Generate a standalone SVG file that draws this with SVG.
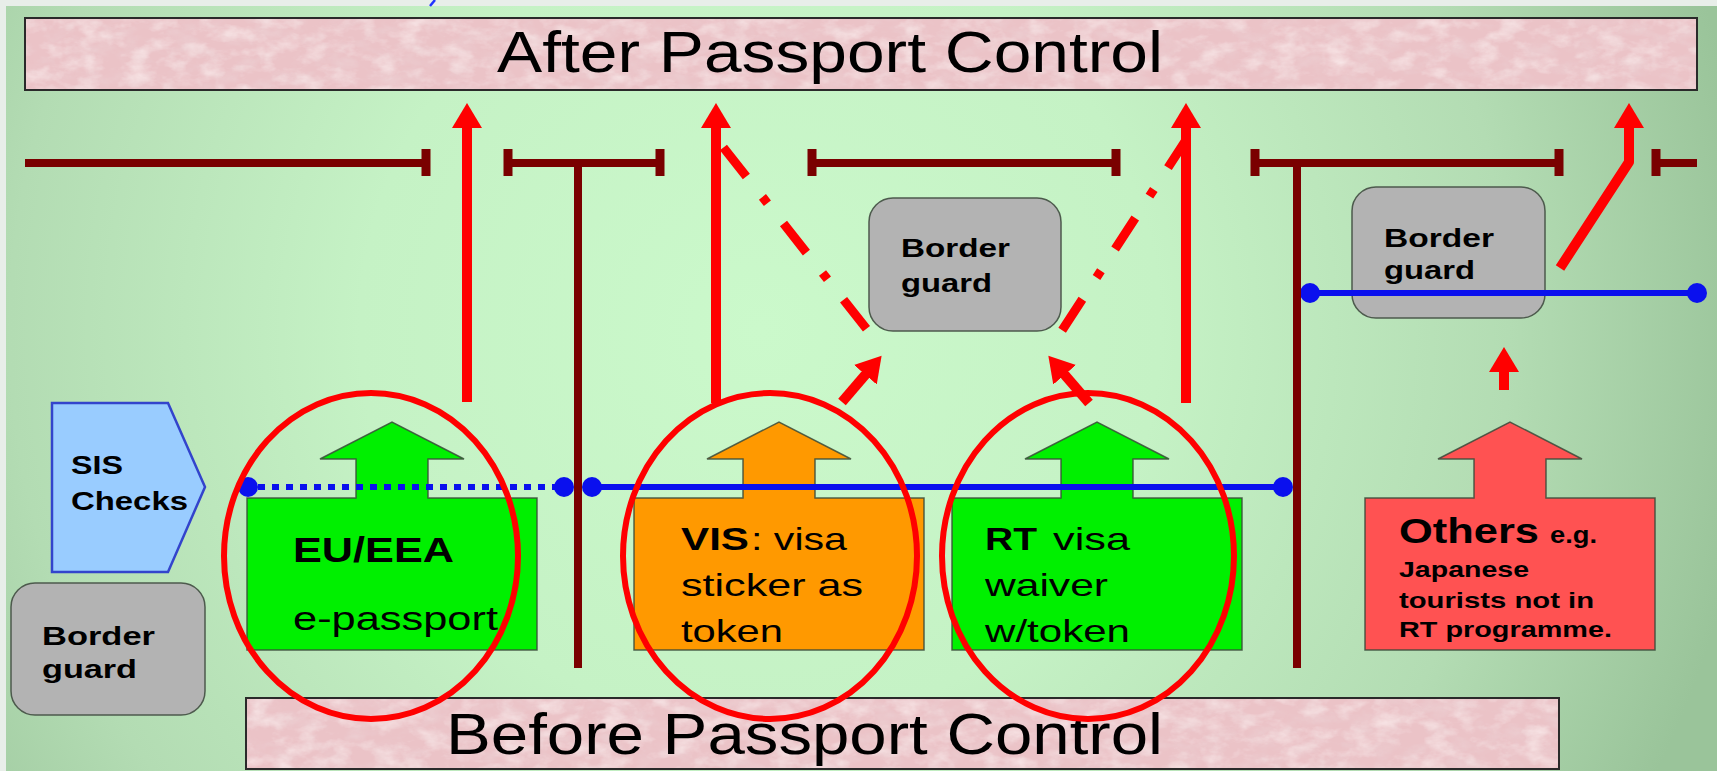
<svg xmlns="http://www.w3.org/2000/svg" xmlns:xlink="http://www.w3.org/1999/xlink" width="1717" height="771" viewBox="0 0 1717 771">
  <defs>
    <radialGradient id="bgGrad" gradientUnits="userSpaceOnUse" cx="760" cy="330" r="1000">
      <stop offset="0" stop-color="#cbf9cb"/>
      <stop offset="0.4" stop-color="#c5f2c5"/>
      <stop offset="0.75" stop-color="#b3dcb3"/>
      <stop offset="1" stop-color="#9ac49a"/>
    </radialGradient>
    <!-- mottled granite look for the two zone bands -->
    <filter id="granite" x="0" y="0" width="1" height="1">
      <feTurbulence type="fractalNoise" baseFrequency="0.04 0.07" numOctaves="4" seed="7" result="noise"/>
      <feColorMatrix in="noise" type="matrix" values="0 0 0 0 0.84  0 0 0 0 0.65  0 0 0 0 0.67  1.4 0 0 0 -0.62" result="darkSpots"/>
      <feColorMatrix in="noise" type="matrix" values="0 0 0 0 0.97  0 0 0 0 0.87  0 0 0 0 0.87  0 1.4 0 0 -0.62" result="lightSpots"/>
      <feComposite in="darkSpots" in2="SourceGraphic" operator="in" result="d2"/>
      <feComposite in="lightSpots" in2="SourceGraphic" operator="in" result="l2"/>
      <feMerge>
        <feMergeNode in="SourceGraphic"/>
        <feMergeNode in="d2"/>
        <feMergeNode in="l2"/>
      </feMerge>
    </filter>
    <!-- block with an up-pointing arrow on top, origin at the arrow tip -->
    <path id="tokenShape" d="M-145,228 V76 H-36 V37 H-72 L0,0 L72,37 H36 V76 H145 V228 Z"/>
    <marker id="head" markerUnits="userSpaceOnUse" markerWidth="26" markerHeight="30" refX="1" refY="15" orient="auto">
      <path d="M0,0 L25,15 L0,30 Z" fill="#ff0000"/>
    </marker>
  </defs>
  <style>
    text { font-family: "Liberation Sans", Arial, Helvetica, sans-serif; fill: #000; }
    .b { font-weight: bold; }
    .zoneFill { fill: #ebc3c7; }
    .zoneEdge { fill: none; stroke: #2a2a2a; stroke-width: 2; }
    .zoneText { font-size: 58px; }
    .token { stroke: #3a4a3a; stroke-width: 1.5; stroke-opacity: 0.85; }
    .tokText { font-size: 32px; }
    .guardBox { fill: #b3b3b3; stroke: #4d5a4d; stroke-width: 1.5; }
    .guardText { font-size: 26px; font-weight: bold; }
    .wall { fill: none; stroke: #7a0000; stroke-width: 8; }
    .tick { stroke: #7a0000; stroke-width: 9; }
    .flow { fill: none; stroke: #ff0000; stroke-width: 10; marker-end: url(#head); }
    .dashflow { fill: none; stroke: #ff0000; stroke-width: 9; stroke-dasharray: 37 26 8 26; }
    .ring { fill: none; stroke: #ff0000; stroke-width: 6; }
    .check { stroke: #0a10ee; stroke-width: 6; fill: none; }
    .checkDot { fill: #0a10ee; }
  </style>

  <!-- backdrop -->
  <rect x="0" y="0" width="1717" height="771" fill="#e8eee9"/>
  <rect x="6" y="6" width="1711" height="765" fill="url(#bgGrad)"/>
  <path d="M430,6 L435,0" stroke="#2233ff" stroke-width="2.5"/>

  <!-- zones -->
  <g id="zone-after">
    <rect class="zoneFill" x="25" y="18" width="1672" height="72" filter="url(#granite)"/>
    <rect class="zoneEdge" x="25" y="18" width="1672" height="72"/>
    <text class="zoneText" x="497" y="72" textLength="666" lengthAdjust="spacingAndGlyphs">After Passport Control</text>
  </g>
  <g id="zone-before">
    <rect class="zoneFill" x="246" y="698" width="1313" height="71" filter="url(#granite)"/>
    <rect class="zoneEdge" x="246" y="698" width="1313" height="71"/>
    <text class="zoneText" x="446" y="754" textLength="717" lengthAdjust="spacingAndGlyphs">Before Passport Control</text>
  </g>

  <!-- traveller categories -->
  <g id="token-eu">
    <use xlink:href="#tokenShape" href="#tokenShape" x="392" y="422" class="token" fill="#00f000"/>
    <text class="b" x="293" y="562" font-size="35" textLength="161" lengthAdjust="spacingAndGlyphs">EU/EEA</text>
    <text x="293" y="630" font-size="33" textLength="205" lengthAdjust="spacingAndGlyphs">e-passport</text>
  </g>
  <g id="token-vis">
    <use xlink:href="#tokenShape" href="#tokenShape" x="779" y="422" class="token" fill="#ff9900"/>
    <text class="tokText b" x="681" y="550" textLength="68" lengthAdjust="spacingAndGlyphs">VIS</text>
    <text class="tokText" x="751" y="550" textLength="96" lengthAdjust="spacingAndGlyphs">: visa</text>
    <text class="tokText" x="681" y="596" textLength="182" lengthAdjust="spacingAndGlyphs">sticker as</text>
    <text class="tokText" x="681" y="642" textLength="102" lengthAdjust="spacingAndGlyphs">token</text>
  </g>
  <g id="token-rt">
    <use xlink:href="#tokenShape" href="#tokenShape" x="1097" y="422" class="token" fill="#00f000"/>
    <text class="tokText b" x="985" y="550" textLength="52" lengthAdjust="spacingAndGlyphs">RT</text>
    <text class="tokText" x="1053" y="550" textLength="77" lengthAdjust="spacingAndGlyphs">visa</text>
    <text class="tokText" x="985" y="596" textLength="123" lengthAdjust="spacingAndGlyphs">waiver</text>
    <text class="tokText" x="985" y="642" textLength="145" lengthAdjust="spacingAndGlyphs">w/token</text>
  </g>
  <g id="token-others">
    <use xlink:href="#tokenShape" href="#tokenShape" x="1510" y="422" class="token" fill="#ff5252"/>
    <text class="b" x="1399" y="543" font-size="35" textLength="140" lengthAdjust="spacingAndGlyphs">Others</text>
    <text class="b" x="1550" y="543" font-size="24" textLength="47" lengthAdjust="spacingAndGlyphs">e.g.</text>
    <text class="b" x="1399" y="577" font-size="22" textLength="130" lengthAdjust="spacingAndGlyphs">Japanese</text>
    <text class="b" x="1399" y="608" font-size="22" textLength="195" lengthAdjust="spacingAndGlyphs">tourists not in</text>
    <text class="b" x="1399" y="637" font-size="22" textLength="213" lengthAdjust="spacingAndGlyphs">RT programme.</text>
  </g>

  <!-- border guards -->
  <g id="guard-left">
    <rect class="guardBox" x="11" y="583" width="194" height="132" rx="24"/>
    <text class="guardText" x="42" y="645" textLength="113" lengthAdjust="spacingAndGlyphs">Border</text>
    <text class="guardText" x="42" y="678" textLength="95" lengthAdjust="spacingAndGlyphs">guard</text>
  </g>
  <g id="guard-mid">
    <rect class="guardBox" x="869" y="198" width="192" height="133" rx="24"/>
    <text class="guardText" x="901" y="257" textLength="109" lengthAdjust="spacingAndGlyphs">Border</text>
    <text class="guardText" x="901" y="292" textLength="91" lengthAdjust="spacingAndGlyphs">guard</text>
  </g>
  <g id="guard-right">
    <rect class="guardBox" x="1352" y="187" width="193" height="131" rx="24"/>
    <text class="guardText" x="1384" y="247" textLength="110" lengthAdjust="spacingAndGlyphs">Border</text>
    <text class="guardText" x="1384" y="279" textLength="91" lengthAdjust="spacingAndGlyphs">guard</text>
  </g>

  <!-- SIS checks -->
  <g id="sis-checks">
    <polygon points="52,403 168,403 205,487 168,572 52,572" fill="#99ccff" stroke="#3344cc" stroke-width="2.5"/>
    <text class="b" x="71" y="474" font-size="25" textLength="52" lengthAdjust="spacingAndGlyphs">SIS</text>
    <text class="b" x="71" y="510" font-size="25" textLength="117" lengthAdjust="spacingAndGlyphs">Checks</text>
  </g>

  <g id="connectors">
    <!-- SIS check lines -->
    <g id="check-lines">
      <line class="check" x1="258" y1="487" x2="556" y2="487" stroke-dasharray="7 7"/>
      <line class="check" x1="592" y1="487" x2="1283" y2="487"/>
      <line class="check" x1="1310" y1="293" x2="1697" y2="293"/>
      <circle class="checkDot" cx="248" cy="487" r="10"/>
      <circle class="checkDot" cx="564" cy="487" r="10"/>
      <circle class="checkDot" cx="592" cy="487" r="10"/>
      <circle class="checkDot" cx="1283" cy="487" r="10"/>
      <circle class="checkDot" cx="1310" cy="293" r="10"/>
      <circle class="checkDot" cx="1697" cy="293" r="10"/>
    </g>
    <!-- barriers -->
    <g id="barriers">
      <path class="wall" d="M25,163 H426 M508,163 H660 M578,163 V668 M812,163 H1116 M1255,163 H1559 M1297,163 V668 M1656,163 H1697"/>
      <path class="tick" d="M426,149 V176 M508,149 V176 M660,149 V176 M812,149 V176 M1116,149 V176 M1255,149 V176 M1559,149 V176 M1656,149 V176"/>
    </g>
    <!-- passenger flows -->
    <g id="flows">
      <path class="flow" d="M467,402 V127"/>
      <path class="flow" d="M716,403 V127"/>
      <path class="flow" d="M1186,403 V127"/>
      <path class="flow" d="M1560,268 L1629,162 V127" stroke-linejoin="round"/>
      <path class="flow" d="M842,402 L866,374"/>
      <path class="flow" d="M1089,403 L1064,374"/>
      <path class="flow" d="M1504,390 V371"/>
      <path class="dashflow" d="M716,138 L869,332" stroke-dashoffset="85"/>
      <path class="dashflow" d="M1186,140 L1061,332" stroke-dashoffset="4"/>
    </g>
  </g>

  <!-- highlight rings -->
  <g id="rings">
    <ellipse class="ring" cx="371" cy="556" rx="147" ry="163"/>
    <ellipse class="ring" cx="770" cy="556" rx="147" ry="163"/>
    <ellipse class="ring" cx="1088" cy="556" rx="146" ry="163"/>
  </g>
</svg>
